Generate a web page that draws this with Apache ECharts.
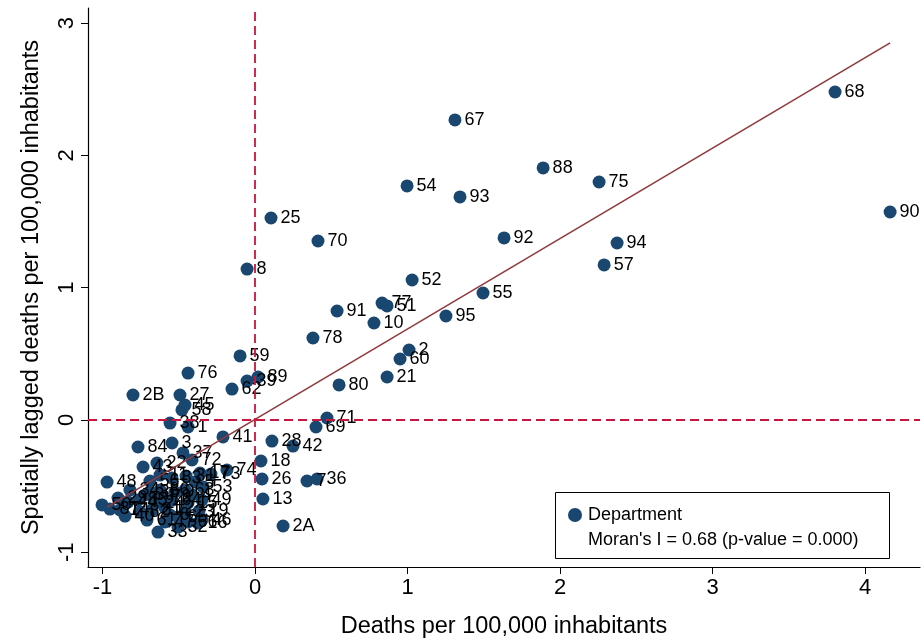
<!DOCTYPE html>
<html>
<head>
<meta charset="utf-8">
<script src="https://cdn.jsdelivr.net/npm/echarts@6/dist/echarts.min.js"></script>
<style>html,body{margin:0;padding:0;background:#fff;}#c{width:924px;height:644px;}</style>
</head>
<body>
<div id="c"></div>
<script>
const labels = ['68','90','67','88','75','54','93','92','94','57','25','70','8','52','55','91','77','51','10','95','78','2','60','21','80','71','69','28','42','18','26','7','36','13','2A','59','89','39','62','76','2B','27','45','58','38','1','41',
 '48','84','43','22','3','37','72','74','17','73','56','83','31','53','49','19','46','16','32','33','65','64','85','87','40','61','86','63','35','44','50','29','12','15','24','82','47','23','34','30','11','9','14','4','5','6','66','81','79'];
const xValues = [3.803,4.164,1.311,1.889,2.256,0.997,1.344,1.633,2.374,2.289,0.105,0.413,-0.052,1.030,1.495,0.538,0.833,0.866,0.780,1.252,0.380,1.010,0.951,0.866,0.551,0.472,0.400,0.111,0.249,0.039,0.046,0.341,0.407,0.052,0.184,-0.098,0.020,-0.052,-0.151,-0.439,-0.800,-0.492,-0.459,-0.479,-0.557,-0.439,-0.210,
 -0.970,-0.767,-0.734,-0.643,-0.544,-0.472,-0.413,-0.184,-0.361,-0.289,-0.689,-0.544,-0.452,-0.341,-0.348,-0.367,-0.348,-0.374,-0.505,-0.636,-0.505,-0.544,-0.767,-0.951,-0.852,-0.708,-0.623,-0.459,-0.689,-0.833,-1.003,-0.898,-0.590,-0.439,-0.656,-0.754,-0.590,-0.459,-0.820,-0.721,-0.623,-0.525,-0.885,-0.413,-0.393,-0.557,-0.439,-0.675,-0.610];
const yValues = [2.479,1.572,2.268,1.905,1.799,1.769,1.686,1.376,1.338,1.172,1.527,1.353,1.141,1.058,0.960,0.824,0.884,0.862,0.733,0.786,0.620,0.529,0.461,0.325,0.265,0.015,-0.053,-0.159,-0.197,-0.310,-0.446,-0.461,-0.446,-0.597,-0.801,0.484,0.325,0.295,0.234,0.355,0.189,0.189,0.113,0.076,-0.023,-0.053,-0.128,
 -0.469,-0.204,-0.355,-0.325,-0.174,-0.249,-0.302,-0.378,-0.401,-0.408,-0.461,-0.438,-0.423,-0.506,-0.605,-0.688,-0.756,-0.779,-0.809,-0.847,-0.733,-0.605,-0.605,-0.673,-0.726,-0.756,-0.529,-0.529,-0.544,-0.620,-0.642,-0.590,-0.665,-0.627,-0.627,-0.695,-0.771,-0.695,-0.529,-0.567,-0.416,-0.544,-0.680,-0.567,-0.469,-0.718,-0.771,-0.680,-0.582];
const fitX = [-0.970, 4.164];
const fitY = [-0.658, 2.850];
const xTicks = [-1, 0, 1, 2, 3, 4];
const yTicks = [-1, 0, 1, 2, 3];

const FONT = "'Liberation Sans', Arial, sans-serif";
const points = labels.map((l, i) => ({ name: l, value: [xValues[i], yValues[i]] }));
const fitData = fitX.map((x, i) => [x, fitY[i]]);

const chart = echarts.init(document.getElementById('c'), null, { renderer: 'canvas' });
chart.setOption({
  animation: false,
  backgroundColor: '#fff',
  textStyle: { fontFamily: FONT },
  grid: { left: 88, right: 4, top: 8, bottom: 77, containLabel: false, outerBoundsMode: 'none' },
  xAxis: {
    type: 'value', min: -1.095, max: 4.36,
    name: 'Deaths per 100,000 inhabitants', nameLocation: 'middle', nameGap: 48,
    nameTextStyle: { fontSize: 23.5, color: '#000', fontFamily: FONT },
    axisLine: { onZero: false, lineStyle: { color: '#000', width: 1.2 } },
    axisTick: { show: true, length: 7, customValues: xTicks, lineStyle: { color: '#000' } },
    axisLabel: { customValues: xTicks, fontSize: 22, color: '#000', margin: 10, fontFamily: FONT },
    splitLine: { show: false }
  },
  yAxis: {
    type: 'value', min: -1.111, max: 3.114,
    name: 'Spatially lagged deaths per 100,000 inhabitants', nameLocation: 'middle', nameGap: 44,
    nameTextStyle: { fontSize: 23.5, color: '#000', fontFamily: FONT },
    axisLine: { show: true, onZero: false, lineStyle: { color: '#000', width: 1.2 } },
    axisTick: { show: true, length: 7, customValues: yTicks, lineStyle: { color: '#000' } },
    axisLabel: { customValues: yTicks, fontSize: 22, color: '#000', margin: 10, rotate: 90, fontFamily: FONT },
    splitLine: { show: false }
  },
  legend: {
    data: ['Department'], left: 563, top: 501, icon: 'circle', itemWidth: 14, itemHeight: 14, itemGap: 8,
    textStyle: { fontSize: 18, color: '#000', fontFamily: FONT, padding: [0, 0, 0, 1] }, z: 10, selectedMode: false
  },
  graphic: [
    { type: 'rect', z: 5, shape: { x: 555.5, y: 492.5, width: 334, height: 66 }, style: { fill: '#fff', stroke: '#000', lineWidth: 1 } },
    { type: 'text', z: 10, style: { text: "Moran's I = 0.68 (p-value = 0.000)", x: 588, y: 540, textVerticalAlign: 'middle', fontSize: 18, fill: '#000', fontFamily: FONT } }
  ],
  series: [
    {
      name: 'Department', type: 'scatter', symbolSize: 13, z: 2,
      itemStyle: { color: '#1a476f', opacity: 1 },
      label: { show: true, position: 'right', distance: 3, formatter: p => p.name, fontSize: 18, color: '#000', fontFamily: FONT },
      labelLayout: { hideOverlap: false },
      data: points,
      markLine: {
        silent: true, symbol: 'none', label: { show: false },
        lineStyle: { color: '#c8163c', width: 1.8, type: [9, 5] },
        data: [{ xAxis: 0 }, { yAxis: 0 }]
      }
    },
    {
      name: 'fit', type: 'line', z: 4, symbol: 'none', silent: true,
      lineStyle: { color: '#913a3e', width: 1.6 },
      data: fitData
    }
  ]
});
</script>
</body>
</html>
